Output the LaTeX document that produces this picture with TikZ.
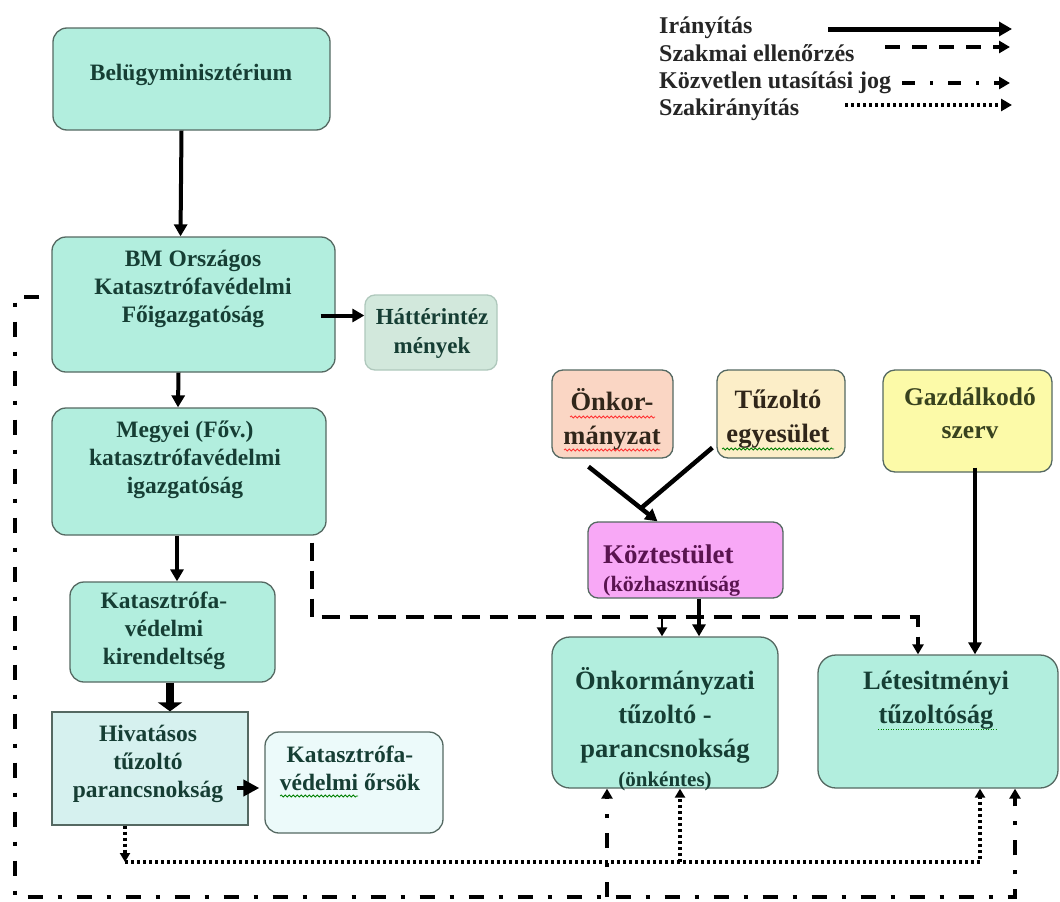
\documentclass[tikz,border=0pt]{standalone}
\usepackage{fontspec}
\setmainfont{Liberation Serif}
\usetikzlibrary{arrows.meta,calc,decorations.pathmorphing}
\newcommand\setfs[2]{\fontsize{#1}{#2}\selectfont}
\definecolor{boxfill}{RGB}{178,238,222}
\definecolor{boxdraw}{RGB}{85,105,98}
\definecolor{boxtext}{RGB}{22,62,52}
\definecolor{hatfill}{RGB}{210,232,220}
\definecolor{hatdraw}{RGB}{175,200,188}
\definecolor{hivfill}{RGB}{214,241,239}
\definecolor{orsfill}{RGB}{236,250,250}
\definecolor{onkfill}{RGB}{250,214,196}
\definecolor{tuzfill}{RGB}{252,238,200}
\definecolor{gazfill}{RGB}{252,250,168}
\definecolor{kozfill}{RGB}{248,168,246}
\definecolor{koztext}{RGB}{90,20,80}
\definecolor{onktext}{RGB}{48,38,26}
\definecolor{gaztext}{RGB}{56,66,30}
\begin{document}
\begin{tikzpicture}[x=1pt,y=-1pt,
  box/.style={draw=boxdraw, line width=1.3pt, rounded corners=14pt, fill=boxfill, inner sep=0pt},
  txt/.style={font=\setfs{23.5}{28}\bfseries, text=boxtext, align=center, inner sep=0pt},
  bigtxt/.style={font=\setfs{26.5}{34}\bfseries, text=boxtext, align=center, inner sep=0pt},
  lgtxt/.style={font=\setfs{24}{27}\bfseries, text=black!85, anchor=base west, inner sep=0pt},
  ctrl/.style={line width=4pt, -{Triangle[length=12pt,width=13pt]}},
  ctrlplain/.style={line width=4.5pt},
  ellen/.style={line width=4pt, dash pattern=on 18pt off 10pt, -{Triangle[length=10pt,width=11pt]}},
  utas/.style={line width=4pt, dash pattern=on 15pt off 15pt on 4pt off 15pt, -{Triangle[length=10pt,width=11pt]}},
  szak/.style={line width=3.5pt, dash pattern=on 3pt off 3pt, -{Triangle[length=9pt,width=10pt]}},
  wavy/.style={decorate, decoration={snake, amplitude=1pt, segment length=4pt}, line width=0.8pt}
]
\useasboundingbox (0,0) rectangle (1060,902);
\fill[white] (0,0) rectangle (1060,902);

% ---------- boxes ----------
\node[box, minimum width=277pt, minimum height=102pt] (bel) at (191.5,79) {};
\node[box, minimum width=283pt, minimum height=135pt] (okf) at (193.5,304.5) {};
\node[box, draw=hatdraw, fill=hatfill, rounded corners=10pt, minimum width=132pt, minimum height=75pt] (hat) at (431,332.5) {};
\node[box, minimum width=274pt, minimum height=127pt] (meg) at (189,471.5) {};
\node[box, minimum width=205pt, minimum height=100pt] (kir) at (172.5,632) {};
\node[box, fill=hivfill, rounded corners=0pt, minimum width=196pt, minimum height=113pt] (hiv) at (150,768.5) {};
\node[box, fill=orsfill, minimum width=178pt, minimum height=101pt] (ors) at (354,782.5) {};
\node[box, fill=onkfill, rounded corners=11pt, minimum width=121pt, minimum height=88pt] (onk) at (612.5,414) {};
\node[box, fill=tuzfill, rounded corners=11pt, minimum width=128pt, minimum height=88pt] (tuz) at (781,414) {};
\node[box, fill=gazfill, rounded corners=12pt, minimum width=169pt, minimum height=102pt] (gaz) at (967.5,421) {};
\node[box, fill=kozfill, rounded corners=10pt, minimum width=195pt, minimum height=76pt] (koz) at (685.5,560) {};
\node[box, rounded corners=18pt, minimum width=226pt, minimum height=151pt] (otp) at (665,712.5) {};
\node[box, rounded corners=18pt, minimum width=240pt, minimum height=133pt] (let) at (938,721.5) {};

% ---------- texts ----------
\node[txt] (belT) at (191,75) {Belügyminisztérium};
\node[txt] (okfT) at (193,289) {BM Országos\\Katasztrófavédelmi\\Főigazgatóság};
\node[txt, font=\setfs{23}{29}\bfseries] (hatT) at (432,333) {Háttérintéz\\mények};
\node[txt] (megT) at (185,460) {Megyei (Főv.)\\katasztrófavédelmi\\igazgatóság};
\node[txt] (kirT) at (164,631) {Katasztrófa-\\védelmi\\kirendeltség};
\node[txt] (hivT) at (148,764) {Hivatásos\\tűzoltó\\parancsnokság};
\node[txt] (orsT) at (350,768) {Katasztrófa-\\védelmi őrsök};
\node[bigtxt, text=onktext] (onkT) at (612,419) {Önkor-\\mányzat};
\node[bigtxt, text=onktext] (tuzT) at (778,419) {Tűzoltó\\egyesület};
\node[bigtxt, font=\setfs{25.5}{33}\bfseries, text=gaztext] (gazT) at (970,413) {Gazdálkodó\\szerv};
\node[anchor=base west, inner sep=0pt, font=\setfs{27}{31}\bfseries, text=koztext] (kozT1) at (603,563) {Köztestület};
\node[anchor=base west, inner sep=0pt, font=\setfs{22}{31}\bfseries, text=koztext] (kozT2) at (603,591) {(közhasznúság};
\node[bigtxt] (otpT) at (665,715) {Önkormányzati\\tűzoltó -\\parancsnokság};
\node[txt, font=\setfs{21}{25}\bfseries] (otpT2) at (665,781) {(önkéntes)};
\node[bigtxt] (letT) at (936,700) {Létesitményi\\tűzoltóság};

% spell-check underlines
\draw[wavy, red!80] (570,417) coordinate (w1a) -- (655,417) coordinate (w1b);
\draw[wavy, red!80] (564,450) coordinate (w2a) -- (660,450) coordinate (w2b);
\draw[wavy, green!50!black] (722,449) coordinate (w3a) -- (834,449) coordinate (w3b);
\draw[wavy, green!50!black] (280,796) coordinate (w4a) -- (358,796) coordinate (w4b);
\draw[green!50!black, line width=0.8pt, dash pattern=on 1pt off 1.5pt] (878,729) coordinate (w5a) -- (996,729) coordinate (w5b);

% ---------- solid connectors ----------
\draw[ctrl] ([xshift=-10pt]bel.south) -- ([xshift=-13pt]okf.north);
\draw[ctrl] ([xshift=-15pt,yshift=-11pt]okf.east) -- ([yshift=17pt]hat.west);
\draw[ctrl] ([xshift=-15pt]okf.south) -- ([xshift=-11pt]meg.north);
\draw[ctrl] ([xshift=-12pt]meg.south) -- ([xshift=4.5pt]kir.north);
\draw[line width=8pt, -{Triangle[length=9pt,width=24pt]}] ([xshift=-2.5pt]kir.south) -- ([xshift=20pt]hiv.north);
\draw[line width=4pt, -{Triangle[length=16pt,width=16pt]}] ([xshift=-12pt,yshift=-19.5pt]hiv.east) -- ([xshift=-5pt,yshift=-5.5pt]ors.west);
\coordinate (onkout) at ([xshift=-24pt,yshift=-8pt]onk.south);
\coordinate (kozin) at ([xshift=-28pt]koz.north);
\coordinate (tuzout) at ([xshift=-4pt,yshift=11pt]tuz.south west);
\coordinate (join) at ($(onkout)!0.76!(kozin)$);
\draw[line width=4.5pt, -{Triangle[length=12pt,width=13pt]}] (onkout) -- (kozin);
\draw[ctrlplain] (tuzout) -- (join);
\draw[ctrl] ([xshift=13.5pt]koz.south) -- ([xshift=34pt]otp.north);
\draw[ctrl] ([xshift=7.5pt,yshift=5pt]gaz.south) -- ([xshift=37pt]let.north);

% ---------- dashed (szakmai ellenorzes) ----------
\coordinate (d0) at ([xshift=123pt,yshift=-7pt]meg.south);
\coordinate (dc1) at (312,617);
\coordinate (dc2) at (918,617);
\coordinate (dbr) at (662,617);
\draw[ellen] (d0) -- (dc1) -- (dc2) -- ([xshift=-20pt]let.north);
\draw[line width=2.5pt, -{Triangle[length=9pt,width=10pt]}] (dbr) -- ([xshift=-3pt]otp.north);

% ---------- dotted (szakiranyitas) ----------
\coordinate (p0) at ([xshift=-25pt]hiv.south);
\coordinate (p1) at (125,862);
\coordinate (p2) at (980,862);
\coordinate (p3) at (680,862);
\draw[szak] (p0) -- (p1);
\draw[szak] (p1) -- (p2) -- ([xshift=42pt]let.south);
\draw[szak] (p3) -- ([xshift=15pt]otp.south);

% ---------- dash-dot (kozvetlen utasitasi jog) ----------
\coordinate (u0) at ([xshift=-12pt,yshift=7.5pt]okf.west);
\coordinate (u1) at (15,297);
\coordinate (u2) at (15,897);
\coordinate (u3) at (1015,897);
\coordinate (u4) at (607,897);
\draw[utas] (u0) -- (u1) -- (u2) -- (u3) -- ([xshift=77pt]let.south);
\draw[utas] (u4) -- ([xshift=-58pt]otp.south);

% ---------- legend ----------
\node[lgtxt] (lg1) at (659,33) {Irányítás};
\node[lgtxt] (lg2) at (659,61) {Szakmai ellenőrzés};
\node[lgtxt] (lg3) at (659,88) {Közvetlen utasítási jog};
\node[lgtxt] (lg4) at (659,115) {Szakirányítás};
\coordinate (l1a) at (828,29); \coordinate (l1b) at (1012,29);
\coordinate (l2a) at (885,47); \coordinate (l2b) at (1010,47);
\coordinate (l3a) at (902,83); \coordinate (l3b) at (1010,83);
\coordinate (l4a) at (845,105); \coordinate (l4b) at (1012,105);
\draw[line width=5pt, -{Triangle[length=13pt,width=14pt]}] (l1a) -- (l1b);
\draw[line width=4pt, dash pattern=on 15pt off 12pt, -{Triangle[length=11pt,width=12pt]}] (l2a) -- (l2b);
\draw[line width=3.5pt, dash pattern=on 13pt off 15pt on 3pt off 15pt, -{Triangle[length=11pt,width=12pt]}] (l3a) -- (l3b);
\draw[line width=3.5pt, dash pattern=on 3pt off 3pt, -{Triangle[length=11pt,width=12pt]}] (l4a) -- (l4b);
\end{tikzpicture}
\end{document}
